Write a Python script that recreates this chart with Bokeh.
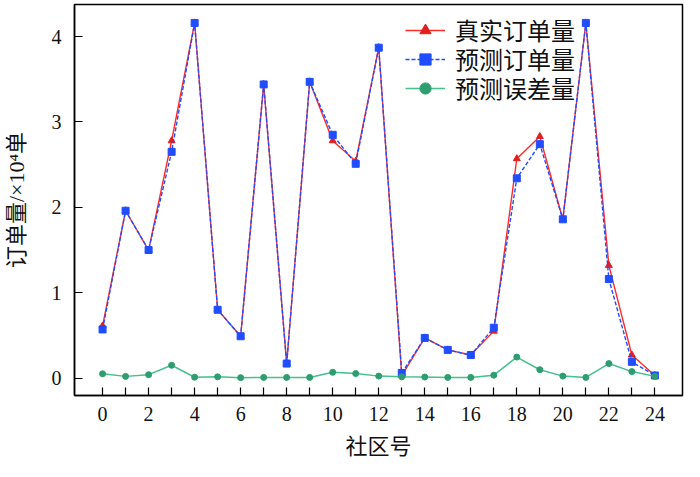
from bokeh.plotting import figure
from bokeh.models import FixedTicker, Range1d, ColumnDataSource, Legend, LegendItem
from bokeh.embed import file_html
from bokeh.resources import INLINE

community = list(range(25))
real_orders = [0.61, 1.96, 1.50, 2.78, 4.16, 0.80, 0.49, 3.44, 0.17, 3.47, 2.78, 2.54, 3.87, 0.03,
               0.47, 0.33, 0.27, 0.55, 2.57, 2.83, 1.86, 4.16, 1.32, 0.27, 0.03]
pred_orders = [0.57, 1.96, 1.50, 2.65, 4.16, 0.80, 0.49, 3.44, 0.17, 3.47, 2.85, 2.51, 3.87, 0.06,
               0.47, 0.33, 0.27, 0.59, 2.34, 2.74, 1.86, 4.16, 1.16, 0.19, 0.03]
error_orders = [0.05, 0.02, 0.04, 0.15, 0.01, 0.015, 0.005, 0.008, 0.008, 0.008, 0.068, 0.053, 0.023, 0.015,
                0.012, 0.008, 0.008, 0.034, 0.246, 0.098, 0.023, 0.008, 0.17, 0.076, 0.02]
series_labels = ["真实订单量", "预测订单量", "预测误差量"]
x_ticks = list(range(0, 25, 2))
x_minor = list(range(1, 25, 2))
y_ticks = [0, 1, 2, 3, 4]

FONT = "Liberation Serif, Noto Sans CJK SC"

src = ColumnDataSource(dict(x=community, real=real_orders, pred=pred_orders, err=error_orders))

p = figure(width=684, height=461, output_backend="svg", toolbar_location=None,
           x_range=Range1d(-1.22, 25.2), y_range=Range1d(-0.204, 4.376),
           min_border_left=72, min_border_right=2, min_border_top=4, min_border_bottom=60)
p.grid.visible = False
p.background_fill_color = "white"
p.border_fill_color = "white"
p.outline_line_color = "black"
p.outline_line_width = 1.5

RED = "#ff2a2a"
BLUE = "#1f4dff"
GREEN_LINE = "#45c08e"
GREEN_MK = "#2e9e70"

r_line = p.line("x", "real", source=src, line_color=RED, line_width=1.4)
r_mk = p.scatter("x", "real", source=src, marker="triangle", size=7, fill_color="#e02020", line_color="#e02020")
b_line = p.line("x", "pred", source=src, line_color=BLUE, line_width=1.4, line_dash="4 2")
b_mk = p.scatter("x", "pred", source=src, marker="square", size=7, fill_color=BLUE, line_color=BLUE)
g_line = p.line("x", "err", source=src, line_color=GREEN_LINE, line_width=1.5)
g_mk = p.scatter("x", "err", source=src, marker="circle", size=6, fill_color=GREEN_MK, line_color=GREEN_MK)

groups = [[r_line, r_mk], [b_line, b_mk], [g_line, g_mk]]
ys = [348, 319, 290]
for label, rends, yy in zip(series_labels, groups, ys):
    lg = Legend(items=[LegendItem(label=label, renderers=rends)], location=(331, yy))
    lg.background_fill_alpha = 0
    lg.border_line_color = None
    lg.label_text_font = FONT
    lg.label_text_font_size = "24px"
    lg.label_text_color = "#111111"
    lg.glyph_width = 40
    lg.glyph_height = 28
    lg.label_height = 28
    lg.spacing = 0
    lg.padding = 2
    lg.margin = 0
    lg.label_standoff = 10
    p.add_layout(lg, "center")

p.xaxis.ticker = FixedTicker(ticks=x_ticks, minor_ticks=x_minor)
p.yaxis.ticker = FixedTicker(ticks=y_ticks)
for ax in (p.xaxis[0], p.yaxis[0]):
    ax.major_tick_in = 8
    ax.major_tick_out = 0
    ax.minor_tick_in = 8
    ax.minor_tick_out = 0
    ax.axis_line_width = 1.5
    ax.major_tick_line_width = 1.2
    ax.minor_tick_line_width = 1.2
    ax.major_label_text_font = FONT
    ax.major_label_text_font_size = "20px"
    ax.major_label_text_color = "#111111"
    ax.axis_label_text_font = FONT
    ax.axis_label_text_font_size = "22px"
    ax.axis_label_text_font_style = "normal"
    ax.axis_label_text_color = "#111111"
p.yaxis.minor_tick_line_color = None
p.xaxis.major_label_standoff = 11
p.yaxis.major_label_standoff = 13
p.xaxis.axis_label = "社区号"
p.yaxis.axis_label = "订单量/×10⁴单"
p.xaxis.axis_label_standoff = 10
p.yaxis.axis_label_standoff = 20

open("out.html", "w").write(file_html(p, INLINE))
